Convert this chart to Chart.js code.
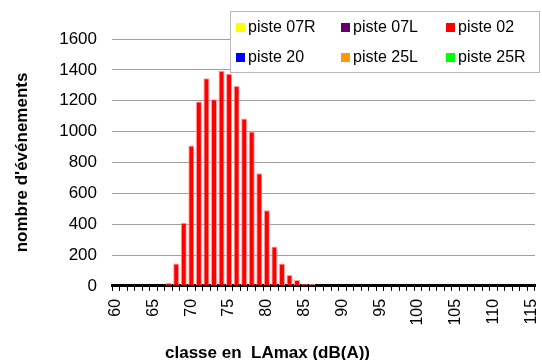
<!DOCTYPE html>
<html>
<head>
<meta charset="utf-8">
<script src="https://cdn.jsdelivr.net/npm/chart.js@4/dist/chart.umd.min.js"></script>
<style>
  html, body { margin: 0; padding: 0; background: #fff; }
  #wrap { width: 542px; height: 360px; }
</style>
</head>
<body>
<div id="wrap"><canvas id="chart"></canvas></div>
<script>
// classes de LAmax (dB(A))
const classes = [60, 61, 62, 63, 64, 65, 66, 67, 68, 69, 70, 71, 72, 73, 74, 75, 76, 77, 78, 79,
                 80, 81, 82, 83, 84, 85, 86, 87, 88, 89, 90, 91, 92, 93, 94, 95, 96, 97, 98, 99,
                 100, 101, 102, 103, 104, 105, 106, 107, 108, 109, 110, 111, 112, 113, 114, 115];

// nombre d'événements par piste
const piste02 = [0, 0, 0, 0, 0, 0, 0, 20, 145, 410, 910, 1195, 1345, 1210, 1395, 1375, 1295, 1085, 1000, 730,
                 490, 255, 145, 70, 38, 14, 12, 0, 0, 0, 0, 0, 0, 0, 0, 0, 0, 0, 0, 0,
                 0, 0, 0, 0, 0, 0, 0, 0, 0, 0, 0, 0, 0, 0, 0, 0];
const piste07R = [];
const piste07L = [];
const piste20 = [];
const piste25L = [];
const piste25R = [];

const yTicks = [0, 200, 400, 600, 800, 1000, 1200, 1400, 1600];

const FONT = "'Liberation Sans', Arial, sans-serif";

// legend drawn as a box over the plot, like the original
const boxLegend = {
  id: 'boxLegend',
  afterDraw(chart) {
    const ctx = chart.ctx;
    const x0 = 230.5, y0 = 11.5, w = 309, h = 61;
    ctx.save();
    ctx.fillStyle = '#ffffff';
    ctx.fillRect(x0, y0, w, h);
    ctx.strokeStyle = '#b8b8b8';
    ctx.lineWidth = 1;
    ctx.strokeRect(x0, y0, w, h);
    const colX = [236, 341, 446];
    const rowY = [27, 57];
    ctx.font = '16px ' + FONT;
    ctx.textBaseline = 'middle';
    ctx.textAlign = 'left';
    chart.data.datasets.forEach((ds, i) => {
      const cx = colX[i % 3];
      const cy = rowY[Math.floor(i / 3)];
      ctx.fillStyle = ds.backgroundColor;
      ctx.fillRect(cx, cy - 4, 9, 9);
      ctx.fillStyle = '#000';
      ctx.fillText(ds.label, cx + 12, cy + 1);
    });
    ctx.restore();
  }
};

new Chart(document.getElementById('chart'), {
  type: 'bar',
  data: {
    labels: classes,
    datasets: [
      { label: 'piste 07R', data: piste07R, backgroundColor: '#ffff00', borderWidth: 0 },
      { label: 'piste 07L', data: piste07L, backgroundColor: '#660066', borderWidth: 0 },
      { label: 'piste 02', data: piste02, backgroundColor: '#ff0000', borderColor: '#ffa0a0', borderWidth: 1, borderSkipped: 'bottom' },
      { label: 'piste 20', data: piste20, backgroundColor: '#0000ff', borderWidth: 0 },
      { label: 'piste 25L', data: piste25L, backgroundColor: '#ff9900', borderWidth: 0 },
      { label: 'piste 25R', data: piste25R, backgroundColor: '#00ff00', borderWidth: 0 }
    ]
  },
  options: {
    responsive: true,
    maintainAspectRatio: false,
    animation: false,
    layout: { padding: { top: 39, right: 7, bottom: 0, left: 0 } },
    datasets: { bar: { barPercentage: 0.8, categoryPercentage: 1 } },
    scales: {
      x: {
        stacked: true,
        afterFit: (s) => { s.paddingLeft = 0; s.paddingRight = 0; },
        grid: { display: true, drawOnChartArea: false, drawTicks: true, tickLength: 5, color: '#000', offset: true },
        border: { display: true, color: '#000', width: 3 },
        ticks: {
          autoSkip: false,
          minRotation: 90,
          maxRotation: 90,
          padding: 8,
          color: '#000',
          font: { family: FONT, size: 16 },
          callback: function (value) {
            const v = classes[value];
            return v % 5 === 0 ? String(v) : '';
          }
        }
      },
      y: {
        stacked: true,
        min: 0,
        max: 1600,
        afterBuildTicks: (axis) => { axis.ticks = yTicks.map(v => ({ value: v })); },
        afterFit: (s) => { s.width = 112; },
        grid: { color: '#a0a0a0', drawTicks: false },
        border: { display: false },
        ticks: {
          padding: 15,
          color: '#000',
          font: { family: FONT, size: 17 },
          callback: (v) => String(v)
        },
        title: {
          display: true,
          text: "nombre d'événements",
          color: '#000',
          font: { family: FONT, size: 17, weight: 'bold' },
          padding: { top: 12, bottom: 26 }
        }
      }
    },
    plugins: {
      legend: { display: false },
      tooltip: { enabled: false },
      title: {
        display: true,
        position: 'bottom',
        text: 'classe en  LAmax (dB(A))',
        color: '#000',
        font: { family: FONT, size: 17, weight: 'bold' },
        padding: { top: 10, bottom: -4 }
      }
    }
  },
  plugins: [boxLegend]
});
</script>
</body>
</html>
